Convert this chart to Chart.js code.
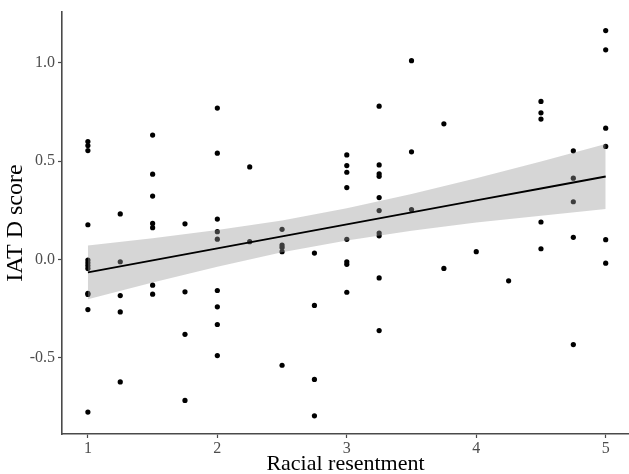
<!DOCTYPE html>
<html>
<head>
<meta charset="utf-8">
<script src="https://cdn.jsdelivr.net/npm/chart.js@4.4.1/dist/chart.umd.min.js"></script>
<style>
html,body{margin:0;padding:0;background:#fff;}
#wrap{width:629px;height:474px;}
</style>
</head>
<body>
<div id="wrap"><canvas id="c" width="629" height="474"></canvas></div>
<script>
// Racial resentment (x) and IAT D score (y) for each respondent
const resentment = [
  1,1,1,1,1,1,1,1,1,1,1,1,
  1.25,1.25,1.25,1.25,1.25,
  1.5,1.5,1.5,1.5,1.5,1.5,1.5,
  1.75,1.75,1.75,1.75,
  2,2,2,2,2,2,2,2,2,
  2.25,2.25,
  2.5,2.5,2.5,2.5,2.5,
  2.75,2.75,2.75,2.75,
  3,3,3,3,3,3,3,3,
  3.25,3.25,3.25,3.25,3.25,3.25,3.25,3.25,3.25,3.25,
  3.5,3.5,3.5,
  3.75,3.75,
  4,
  4.25,
  4.5,4.5,4.5,4.5,4.5,
  4.75,4.75,4.75,4.75,4.75,
  5,5,5,5,5,5
];
const iatScore = [
  0.599,0.579,0.553,0.176,-0.003,-0.017,-0.031,-0.046,-0.172,-0.178,-0.255,-0.776,
  0.231,-0.012,-0.184,-0.267,-0.623,
  0.632,0.433,0.322,0.183,0.161,-0.131,-0.177,
  0.181,-0.165,-0.381,-0.717,
  0.769,0.540,0.205,0.141,0.103,-0.158,-0.241,-0.331,-0.489,
  0.470,0.090,
  0.153,0.073,0.061,0.039,-0.538,
  0.032,-0.234,-0.610,-0.795,
  0.531,0.477,0.443,0.365,0.102,-0.012,-0.025,-0.167,
  0.779,0.480,0.435,0.422,0.314,0.248,0.134,0.120,-0.094,-0.362,
  1.010,0.547,0.253,
  0.689,-0.046,
  0.039,
  -0.109,
  0.803,0.745,0.713,0.190,0.054,
  0.552,0.413,0.293,0.112,-0.433,
  1.163,1.065,0.667,0.574,0.100,-0.019
];
// Fitted regression line and its confidence band
const fitX     = [1, 1.5, 2, 2.5, 3, 3.5, 4, 4.5, 5];
const fitY     = [-0.066, -0.005, 0.056, 0.117, 0.178, 0.239, 0.300, 0.360, 0.421];
const bandLow  = [-0.203, -0.118, -0.037, 0.036, 0.096, 0.145, 0.187, 0.222, 0.256];
const bandHigh = [0.071, 0.108, 0.149, 0.198, 0.260, 0.333, 0.413, 0.498, 0.586];
// Tick labels
const xTicks = [1, 2, 3, 4, 5];
const yTicks = [-0.5, 0.0, 0.5, 1.0];

const pts = resentment.map((x, i) => ({x: x, y: iatScore[i]}));
const toXY = arr => fitX.map((x, i) => ({x: x, y: arr[i]}));

const FONT = "'Liberation Serif', 'Times New Roman', serif";
const AXIS = '#4a4a4a';

new Chart(document.getElementById('c'), {
  type: 'scatter',
  data: {
    datasets: [
      {data: pts, pointRadius: 2.6, pointBackgroundColor: '#000', pointBorderWidth: 0, order: 3},
      {data: toXY(bandLow), showLine: true, pointRadius: 0, borderWidth: 0, borderColor: 'rgba(0,0,0,0)', fill: false, order: 2},
      {data: toXY(bandHigh), showLine: true, pointRadius: 0, borderWidth: 0, borderColor: 'rgba(0,0,0,0)', fill: '-1', backgroundColor: 'rgba(153,153,153,0.4)', order: 1},
      {data: toXY(fitY), showLine: true, pointRadius: 0, borderWidth: 2, borderColor: '#000', fill: false, order: 0}
    ]
  },
  options: {
    responsive: false,
    animation: false,
    devicePixelRatio: 1,
    layout: {autoPadding: false, padding: {top: 12, right: 0, left: 0, bottom: 0}},
    plugins: {legend: {display: false}, tooltip: {enabled: false}},
    scales: {
      x: {
        type: 'linear', min: 0.8, max: 5.18,
        afterBuildTicks: s => { s.ticks = xTicks.map(v => ({value: v})); },
        afterFit: s => { s.height = 40; s.paddingLeft = 0; s.paddingRight = 0; },
        grid: {drawOnChartArea: false, drawTicks: true, tickLength: 4, color: AXIS, tickWidth: 1.2},
        border: {display: true, color: AXIS, width: 1.6},
        ticks: {color: '#4d4d4d', font: {family: FONT, size: 16}, padding: 1, maxRotation: 0,
                callback: v => String(v)},
        title: {display: true, text: 'Racial resentment', color: '#000', font: {family: FONT, size: 22, lineHeight: 0.86}, padding: {top: 0, bottom: 0}}
      },
      y: {
        type: 'linear', min: -0.8875, max: 1.2575,
        afterBuildTicks: s => { s.ticks = yTicks.map(v => ({value: v})); },
        afterFit: s => { s.width = 62; s.paddingTop = 0; s.paddingBottom = 0; },
        grid: {drawOnChartArea: false, drawTicks: true, tickLength: 4, color: AXIS, tickWidth: 1.2},
        border: {display: true, color: AXIS, width: 1.6},
        ticks: {color: '#4d4d4d', font: {family: FONT, size: 16}, padding: 3,
                callback: v => v.toFixed(1)},
        title: {display: true, text: 'IAT D score', color: '#000', font: {family: FONT, size: 24, lineHeight: 1.2}, padding: {top: 1.5, bottom: 0}}
      }
    }
  }
});
</script>
</body>
</html>
